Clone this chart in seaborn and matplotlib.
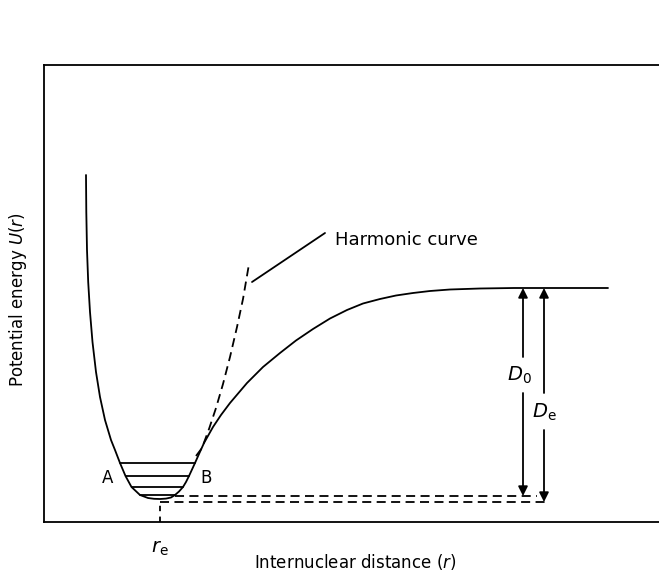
import matplotlib
matplotlib.use("Agg")
import matplotlib.pyplot as plt
import seaborn as sns
import pandas as pd

sns.set_theme(style="white")
plt.rcParams['font.family'] = ['DejaVu Sans']
plt.rcParams['text.color'] = 'black'

# Potential energy curve (r and U in arbitrary units)
curve_r = [42.0, 42.3, 43.0, 44.2, 46.0, 48.5, 52.0, 56.0, 61.0, 67.0, 71.0, 76.0, 81.5, 87.5, 96.0,
           104, 110, 116, 122, 127, 131, 135, 139, 142, 145, 148, 151, 155, 160, 169, 177, 186,
           203, 219, 236, 252, 269, 286, 303, 319, 336, 352, 369, 386, 406, 436, 470, 564]
curve_U = [347, 310, 272, 240, 210, 180, 150, 125, 102, 82, 72, 59, 46, 35, 27,
           24, 23.2, 23, 23.4, 24.5, 27, 30.5, 35, 40, 46, 52.5, 59, 68, 79, 95, 107, 119,
           139, 155, 169, 181.5, 193, 203.5, 212, 218.5, 223, 226.5, 229, 231, 232.5, 233.5, 234, 234]

# Harmonic (parabolic) curve, dashed, right branch
harm_r = [152, 158, 165, 172, 179, 186, 193, 199, 205]
harm_U = [66, 74, 93, 114, 138, 165, 195, 223, 258]

# vibrational levels (U) and their extents
level_U = [59, 46, 35, 27]
level_r0 = [76, 81.5, 87.5, 96]
level_r1 = [151, 145, 139, 131]

re_r = 116
Umin = 20
U_v0 = 26
U_diss = 234

fig = plt.figure(figsize=(6.59, 5.73), dpi=100)
ax = fig.add_axes([44/659, 51/573, 615/659, 457/573])
ax.set_xlim(0, 615)
ax.set_ylim(0, 457)

lw = 1.3
df = pd.DataFrame({"r": curve_r, "U": curve_U})
sns.lineplot(data=df, x="r", y="U", ax=ax, color="black", lw=lw, sort=False, estimator=None)
dh = pd.DataFrame({"r": harm_r, "U": harm_U})
sns.lineplot(data=dh, x="r", y="U", ax=ax, color="black", lw=lw, sort=False, estimator=None,
             linestyle=(0, (5, 3)))

for u, a, b in zip(level_U, level_r0, level_r1):
    ax.plot([a, b], [u, u], color="black", lw=lw)

# dashed reference lines
ax.plot([131, 493], [U_v0, U_v0], color="black", lw=lw, ls=(0, (5, 3)))
ax.plot([re_r, 504], [Umin, Umin], color="black", lw=lw, ls=(0, (5, 3)))
ax.plot([re_r, re_r], [0, Umin], color="black", lw=lw, ls=(0, (3, 3)))

# D0 and De arrows
x_D0, x_De = 479, 500
ap = dict(arrowstyle="-|>", color="black", lw=lw, mutation_scale=14, shrinkA=0, shrinkB=0)
ax.annotate("", xy=(x_D0, U_diss), xytext=(x_D0, 165), arrowprops=ap)
ax.annotate("", xy=(x_D0, U_v0), xytext=(x_D0, 129), arrowprops=ap)
ax.annotate("", xy=(x_De, U_diss), xytext=(x_De, 129), arrowprops=ap)
ax.annotate("", xy=(x_De, Umin), xytext=(x_De, 92), arrowprops=ap)
ax.text(x_D0 - 4, 147, r"$D_0$", fontsize=14, ha="center", va="center")
ax.text(x_De, 110, r"$D_{\rm e}$", fontsize=14, ha="center", va="center")

# harmonic label pointer
ax.plot([208, 281], [240, 289], color="black", lw=lw)
ax.text(291, 282, "Harmonic curve", fontsize=13, ha="left", va="center")

ax.text(64, 44, "A", fontsize=12, ha="center", va="center")
ax.text(162, 44, "B", fontsize=12, ha="center", va="center")

ax.text(re_r, -26, r"$r_{\rm e}$", fontsize=14, ha="center", va="center", clip_on=False)
ax.text(311, -40, "Internuclear distance ($r$)", fontsize=12, ha="center", va="center", clip_on=False)
ax.text(-26, 222, "Potential energy $U(r)$", fontsize=12, ha="center", va="center",
        rotation=90, clip_on=False)

ax.set_xlabel("")
ax.set_ylabel("")
ax.set_xticks([])
ax.set_yticks([])
for s in ["left", "top", "bottom"]:
    ax.spines[s].set_color("black")
    ax.spines[s].set_linewidth(lw)
ax.spines["right"].set_visible(False)

fig.savefig("out.png", dpi=100, facecolor="white")
